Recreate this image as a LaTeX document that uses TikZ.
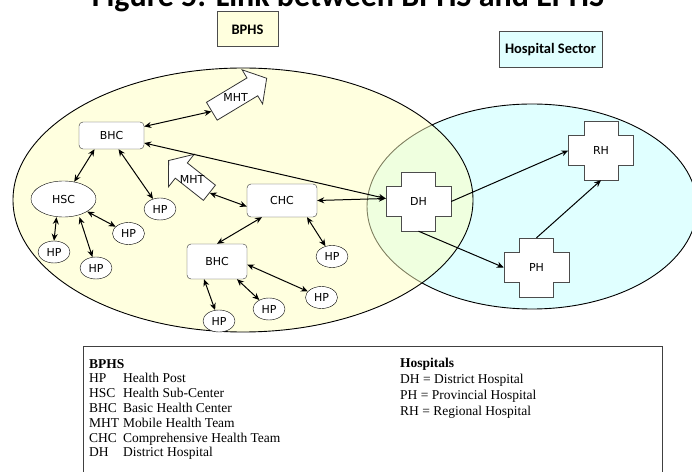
\documentclass[tikz,border=0pt]{standalone}
\usepackage{fontspec}
\setmainfont{Liberation Serif}
\newfontfamily\labelfont{DejaVu Sans}
\newfontfamily\boxfont{Carlito}
\usetikzlibrary{shapes.geometric,shapes.arrows,arrows.meta,calc}

\definecolor{bphsfill}{RGB}{255,255,192}
\definecolor{bphsbox}{RGB}{255,255,222}
\definecolor{hospfill}{RGB}{224,255,255}

% cross outline of a hospital, centred on the given point
\newcommand{\hospcross}[1]{%
  \draw[crossline] ($(#1)+(-17,-29.5)$) -- ++(34,0) -- ++(0,14.5) -- ++(15.5,0)
    -- ++(0,30) -- ++(-15.5,0) -- ++(0,14.5) -- ++(-34,0) -- ++(0,-14.5)
    -- ++(-15.5,0) -- ++(0,-30) -- ++(15.5,0) -- cycle;}

\begin{document}
\begin{tikzpicture}[x=1bp, y=-1bp,
    % Styles
    centre/.style={draw=black!80, fill=white, rounded corners=4bp, inner sep=0, font=\labelfont\fontsize{11bp}{13bp}\selectfont},
    post/.style={ellipse, draw, fill=white, minimum width=32bp, minimum height=22bp, inner sep=0, font=\labelfont\fontsize{11bp}{13bp}\selectfont},
    team/.style={single arrow, draw=black!80, fill=white, inner xsep=0, line width=0.8bp},
    teamlabel/.style={font=\labelfont\fontsize{11bp}{13bp}\selectfont, inner sep=0},
    hosp/.style={minimum width=65bp, minimum height=59bp, inner sep=0, font=\labelfont\fontsize{11bp}{13bp}\selectfont},
    crossline/.style={draw=black!70, fill=white, line width=0.9bp},
    sector/.style={draw=black!70, line width=1bp, inner sep=0, font=\boxfont\bfseries\fontsize{14.5bp}{17bp}\selectfont},
    link/.style={{Stealth[length=7bp,width=6bp]}-{Stealth[length=7bp,width=6bp]}, line width=1bp},
    refer/.style={-{Stealth[length=7bp,width=6bp]}, line width=1bp},
]
\useasboundingbox (0,0) rectangle (692,472);

% Title
\node[anchor=base, font=\boxfont\bfseries\fontsize{32bp}{36bp}\selectfont] (title) at (348,7) {Figure 5: Link between BPHS and EPHS};

% Sector boxes
\node[sector, fill=bphsbox, minimum width=61bp, minimum height=35bp] (bphs) at (247.5,29.5) {BPHS};
\node[sector, fill=hospfill, minimum width=103bp, minimum height=36bp] (sector) at (550.5,50) {Hospital Sector};

% Sector areas
\draw[fill=hospfill, line width=0.9bp] (532,206.5) ellipse [x radius=165bp, y radius=102.5bp];
\draw[fill=bphsfill, fill opacity=0.5, line width=0.9bp] (243,200) ellipse [x radius=230bp, y radius=132bp];

% BPHS facilities
\node[centre, minimum width=65bp, minimum height=27bp] (bhcA) at (111.5,135.5) {BHC};
\node[centre, minimum width=70bp, minimum height=33bp] (chc) at (282,200.5) {CHC};
\node[centre, minimum width=60bp, minimum height=35bp] (bhcB) at (217,261.5) {BHC};
\node[post, minimum width=65bp, minimum height=36bp] (hsc) at (63.5,199) {HSC};

\node[post] (hpA) at (160,209) {HP};
\node[post] (hpB) at (128.5,233.5) {HP};
\node[post] (hpC) at (54,252) {HP};
\node[post] (hpD) at (96,268) {HP};
\node[post] (hpE) at (332,256.5) {HP};
\node[post] (hpF) at (321.5,297.5) {HP};
\node[post] (hpG) at (269,309) {HP};
\node[post] (hpH) at (219,321) {HP};

% Mobile health teams
\node[team, rotate=31, minimum height=64bp, inner ysep=10bp, single arrow head extend=9.5bp, single arrow tip angle=100] (mhtA) at (235.5,97) {};
\node[teamlabel] (mhtAtext) at (mhtA.center) {MHT};
\node[team, rotate=141.7, minimum height=52bp, inner ysep=9.3bp, single arrow head extend=11bp, single arrow tip angle=104] (mhtB) at (192,179) {};
\node[teamlabel] (mhtBtext) at (mhtB.center) {MHT};

% Hospitals
\hospcross{418.5,201.5}
\hospcross{601,150.5}
\hospcross{536.5,267.5}
\node[hosp] (dh) at (418.5,201.5) {DH};
\node[hosp] (rh) at (601,150.5) {RH};
\node[hosp] (ph) at (536.5,267.5) {PH};

% Links inside the BPHS
\draw[link] ($(bhcA.east)+(0,-9)$) -- (mhtA.tail);
\draw[link] ($(bhcA.south)+(-17,0)$) -- (hsc);
\draw[link] ($(bhcA.south)+(7,0)$) -- (hpA);
\draw[link] (hsc) -- (hpB);
\draw[link] ($(hsc.south)+(-7,0)$) -- (hpC.north);
\draw[link] ($(hsc.south)+(16,0)$) -- (hpD);
\draw[link] (mhtB.tail) -- ($(chc.west)+(0,6)$);
\draw[link] ($(chc.south)+(-20,0)$) -- (bhcB.north);
\draw[link] ($(chc.south)+(25,0)$) -- (hpE);
\draw[link] ($(bhcB.east)+(0,3)$) -- (hpF);
\draw[link] ($(bhcB.south)+(20,0)$) -- (hpG);
\draw[link] ($(bhcB.south)+(-13,0)$) -- (hpH);

% Links to the hospital sector
\draw[link] ($(bhcA.east)+(0,7.5)$) -- ($(dh.west)+(0,-3)$);
\draw[link] (chc.east) -- ($(dh.west)+(0,-3)$);
\draw[refer] (dh.east) -- (rh.west);
\draw[refer] (dh.south) -- (ph.west);
\draw[refer] (ph.north) -- (rh.south);

% Key
\draw[draw=black!75, line width=1bp] (83,346) rectangle (662,500);
\node[anchor=base west, inner sep=0, font=\fontsize{13.5bp}{14.8bp}\selectfont] (bphskey) at (89,368) {%
\begin{tabular}[t]{@{}p{34bp}@{}l@{}}
\textbf{BPHS} & \\
HP & Health Post\\
HSC & Health Sub-Center\\
BHC & Basic Health Center\\
MHT & Mobile Health Team\\
CHC & Comprehensive Health Team\\
DH & District Hospital
\end{tabular}};
\node[anchor=base west, inner sep=0, font=\fontsize{13.5bp}{16bp}\selectfont] (hospkey) at (400,367) {%
\begin{tabular}[t]{@{}l@{}}
\textbf{Hospitals}\\
DH = District Hospital\\
PH = Provincial Hospital\\
RH = Regional Hospital
\end{tabular}};

\end{tikzpicture}
\end{document}
